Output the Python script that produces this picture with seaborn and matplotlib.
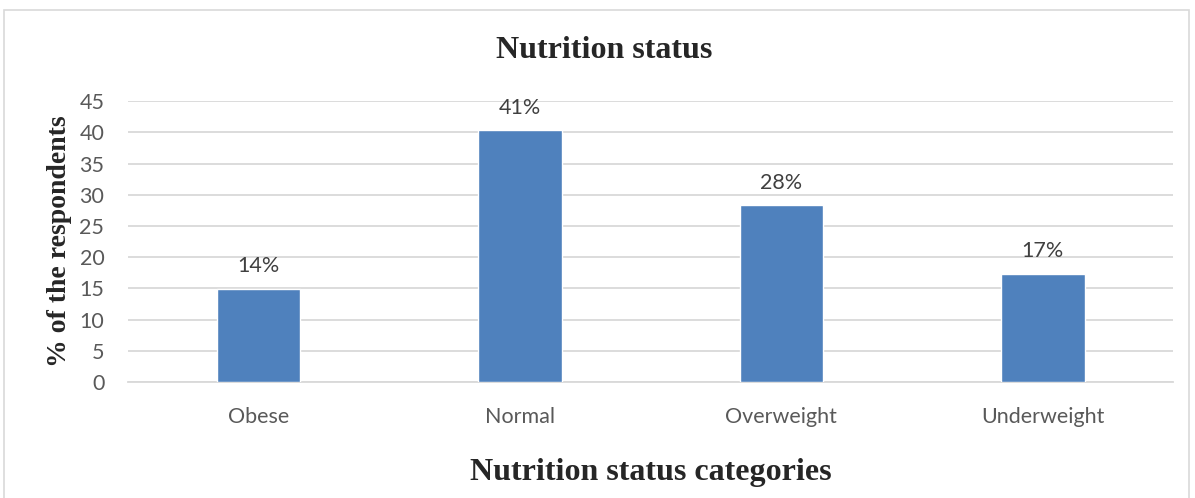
import matplotlib
matplotlib.use("Agg")
import matplotlib.pyplot as plt
import seaborn as sns
import pandas as pd
from matplotlib.patches import Rectangle

categories = ["Obese", "Normal", "Overweight", "Underweight"]
values = [14.9, 40.3, 28.3, 17.3]
labels = ["14%", "41%", "28%", "17%"]

df = pd.DataFrame({"category": categories, "value": values})

sns.set_style("white")
serif = ["Liberation Serif", "DejaVu Serif"]
tick_font = ["Lato", "DejaVu Sans"]

fig = plt.figure(figsize=(11.95, 4.98), dpi=100)
ax = fig.add_axes([0.107, 0.233, 0.875, 0.564])

sns.barplot(data=df, x="category", y="value", color="#4f81bd",
            width=0.32, saturation=1, ax=ax, zorder=3)

ax.set_ylim(0, 45)
ax.set_yticks(range(0, 46, 5))
ax.yaxis.grid(True, color="#d9d9d9", linewidth=1.3, zorder=0)
ax.set_axisbelow(True)
for side in ["top", "right", "left"]:
    ax.spines[side].set_visible(False)
ax.spines["bottom"].set_color("#d9d9d9")
ax.spines["bottom"].set_linewidth(1.3)
ax.tick_params(length=0, labelsize=15.5, labelcolor="#595959")
for t in ax.get_xticklabels() + ax.get_yticklabels():
    t.set_family(tick_font)
ax.tick_params(axis="x", pad=18)
ax.tick_params(axis="y", pad=17)

ax.bar_label(ax.containers[0], labels=labels, padding=9,
             fontsize=15.5, color="#404040", family=tick_font)

ax.set_xlabel("Nutrition status categories", fontsize=23, fontweight="bold",
              family=serif, labelpad=22)
ax.set_ylabel("% of the respondents", fontsize=20, fontweight="bold",
              family=serif, labelpad=5)
fig.text(0.506, 0.898, "Nutrition status", ha="center", va="center",
         fontsize=23, fontweight="bold", family=serif)

fig.patches.append(Rectangle((0.003, -0.01), 0.992, 0.99,
                             transform=fig.transFigure, fill=False,
                             edgecolor="#d9d9d9", linewidth=1.2))

fig.savefig("out.png", dpi=100)
